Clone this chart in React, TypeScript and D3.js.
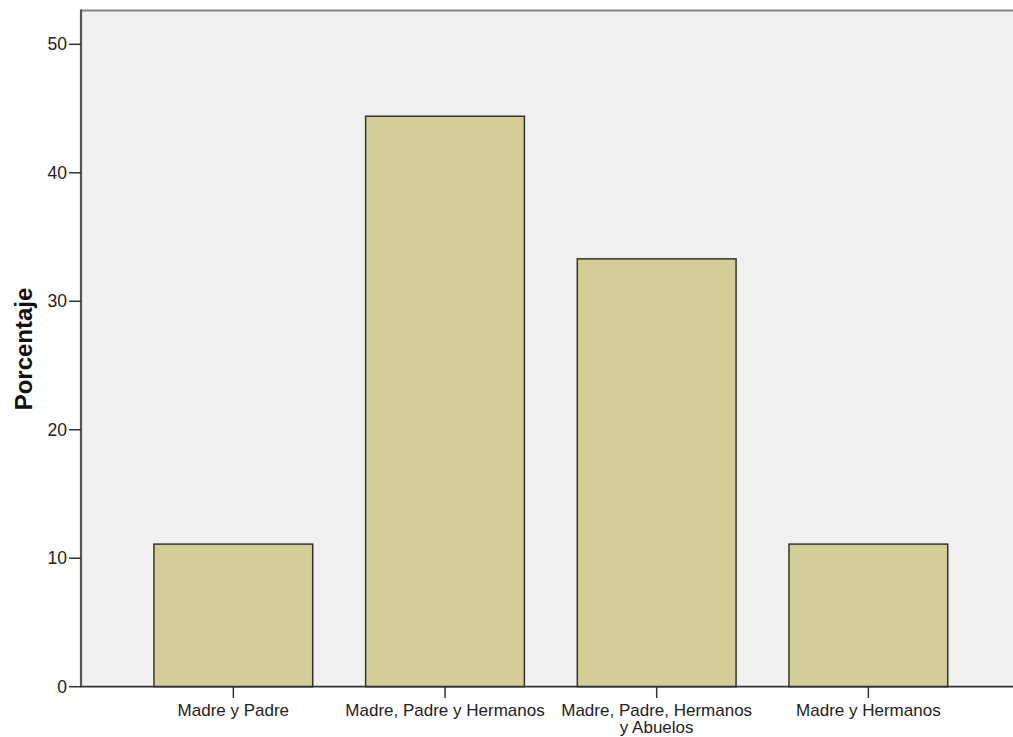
import React, { useEffect } from "react";
import * as d3 from "d3";

const categories: string[][] = [
  ["Madre y Padre"],
  ["Madre, Padre y Hermanos"],
  ["Madre, Padre, Hermanos", "y Abuelos"],
  ["Madre y Hermanos"],
];
const values: number[] = [11.1, 44.4, 33.3, 11.1];
const yTicks: number[] = [0, 10, 20, 30, 40, 50];
const yTitle = "Porcentaje";

const W = 1013;
const H = 737;
const plotLeft = 81;
const plotTop = 10.5;
const plotBottom = 686.7;

export default function App() {
  useEffect(() => {
    document.body.style.margin = "0";
    document.body.style.overflow = "hidden";
  }, []);
  const keys = categories.map((c) => c.join(" "));
  const x = d3
    .scaleBand<string>()
    .domain(keys)
    .range([127.5, 974.2])
    .paddingInner(0.25)
    .paddingOuter(0.125);
  const y = d3.scaleLinear().domain([0, 50]).range([plotBottom, 44.3]);
  const font = "'Liberation Sans', Arial, sans-serif";

  return (
    <svg
      width={W}
      height={H}
      style={{ position: "absolute", left: 0, top: 0, display: "block", background: "#fff" }}
    >
      <rect x={plotLeft} y={plotTop} width={W - plotLeft} height={plotBottom - plotTop} fill="#f0f0f0" />
      <line x1={plotLeft} x2={W} y1={plotTop} y2={plotTop} stroke="#888" strokeWidth={2} />
      {values.map((v, i) => (
        <rect
          key={i}
          x={x(keys[i])!}
          y={y(v)}
          width={x.bandwidth()}
          height={y(0) - y(v)}
          fill="#d3ce97"
          stroke="#333"
          strokeWidth={1.5}
        />
      ))}
      <line x1={plotLeft} x2={plotLeft} y1={plotTop - 1} y2={plotBottom} stroke="#555" strokeWidth={2.2} />
      <line x1={plotLeft - 1} x2={W} y1={plotBottom} y2={plotBottom} stroke="#333" strokeWidth={1.8} />
      {yTicks.map((t) => (
        <g key={t}>
          <line x1={69} x2={plotLeft} y1={y(t)} y2={y(t)} stroke="#333" strokeWidth={1.5} />
          <text
            x={67}
            y={y(t)}
            dy="0.35em"
            textAnchor="end"
            fontFamily={font}
            fontSize={17.5}
            fill="#222"
          >
            {t}
          </text>
        </g>
      ))}
      {categories.map((lines, i) => {
        const cx = x(keys[i])! + x.bandwidth() / 2;
        return (
          <g key={i}>
            <line x1={cx} x2={cx} y1={plotBottom} y2={698} stroke="#333" strokeWidth={1.5} />
            {lines.map((ln, j) => (
              <text
                key={j}
                x={cx}
                y={715.5 + j * 17.5}
                textAnchor="middle"
                fontFamily={font}
                fontSize={17}
                fill="#222"
              >
                {ln}
              </text>
            ))}
          </g>
        );
      })}
      <text
        transform={`translate(32,349) rotate(-90)`}
        textAnchor="middle"
        fontFamily={font}
        fontWeight="bold"
        fontSize={24}
        fill="#111"
      >
        {yTitle}
      </text>
    </svg>
  );
}
